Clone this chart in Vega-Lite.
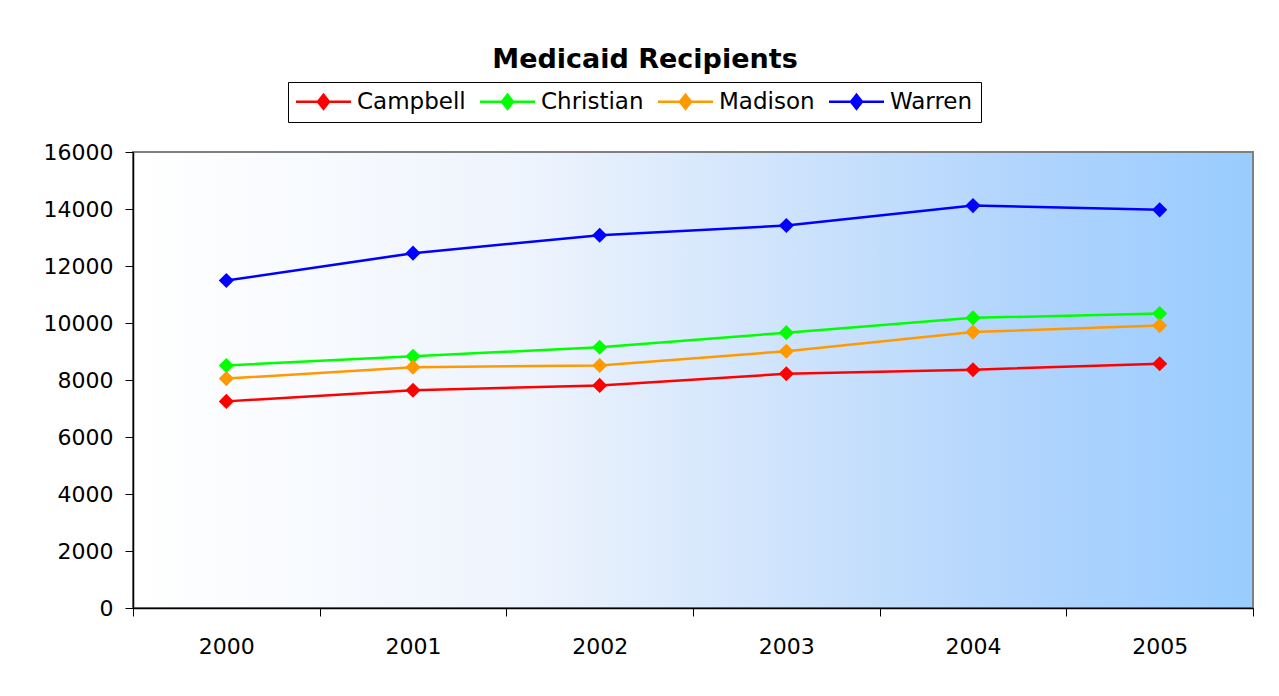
{
  "$schema": "https://vega.github.io/schema/vega-lite/v6.json",
  "autosize": {"type": "none"},
  "width": 1120,
  "height": 456,
  "padding": {"left": 133, "top": 152, "right": 26, "bottom": 88},
  "background": "white",
  "title": {
    "text": "Medicaid Recipients",
    "font": "DejaVu Sans",
    "fontSize": 27,
    "fontWeight": "bold",
    "color": "black",
    "anchor": "middle",
    "baseline": "alphabetic",
    "offset": -13,
    "dx": -48
  },
  "view": {
    "fill": {
      "gradient": "linear",
      "x1": 0, "y1": 0, "x2": 1, "y2": 0,
      "stops": [
        {"offset": 0, "color": "#FFFFFF"},
        {"offset": 0.35, "color": "#EEF4FD"},
        {"offset": 0.6, "color": "#CCE2FC"},
        {"offset": 0.8, "color": "#B0D4FD"},
        {"offset": 1, "color": "#99CCFF"}
      ]
    },
    "stroke": "#808080",
    "strokeWidth": 2
  },
  "data": {
    "values": [
      {"year": "2000", "county": "Campbell", "recipients": 7250},
      {"year": "2001", "county": "Campbell", "recipients": 7640},
      {"year": "2002", "county": "Campbell", "recipients": 7810},
      {"year": "2003", "county": "Campbell", "recipients": 8220},
      {"year": "2004", "county": "Campbell", "recipients": 8360},
      {"year": "2005", "county": "Campbell", "recipients": 8570},
      {"year": "2000", "county": "Christian", "recipients": 8510},
      {"year": "2001", "county": "Christian", "recipients": 8830},
      {"year": "2002", "county": "Christian", "recipients": 9150},
      {"year": "2003", "county": "Christian", "recipients": 9660},
      {"year": "2004", "county": "Christian", "recipients": 10180},
      {"year": "2005", "county": "Christian", "recipients": 10330},
      {"year": "2000", "county": "Madison", "recipients": 8050},
      {"year": "2001", "county": "Madison", "recipients": 8450},
      {"year": "2002", "county": "Madison", "recipients": 8510},
      {"year": "2003", "county": "Madison", "recipients": 9010},
      {"year": "2004", "county": "Madison", "recipients": 9680},
      {"year": "2005", "county": "Madison", "recipients": 9910},
      {"year": "2000", "county": "Warren", "recipients": 11490},
      {"year": "2001", "county": "Warren", "recipients": 12450},
      {"year": "2002", "county": "Warren", "recipients": 13080},
      {"year": "2003", "county": "Warren", "recipients": 13420},
      {"year": "2004", "county": "Warren", "recipients": 14120},
      {"year": "2005", "county": "Warren", "recipients": 13970}
    ]
  },
  "encoding": {
    "x": {
      "field": "year",
      "type": "ordinal",
      "scale": {"type": "band", "paddingInner": 0, "paddingOuter": 0},
      "axis": {
        "title": null,
        "labelAngle": 0,
        "labelFont": "DejaVu Sans",
        "labelFontSize": 22,
        "labelColor": "black",
        "labelPadding": 20,
        "tickSize": 8,
        "tickBand": "extent",
        "tickColor": "black",
        "domainColor": "black",
        "domainWidth": 1.5,
        "grid": false
      }
    },
    "y": {
      "field": "recipients",
      "type": "quantitative",
      "scale": {"domain": [0, 16000], "nice": false},
      "axis": {
        "title": null,
        "values": [0, 2000, 4000, 6000, 8000, 10000, 12000, 14000, 16000],
        "format": "d",
        "labelFont": "DejaVu Sans",
        "labelFontSize": 22,
        "labelColor": "black",
        "labelPadding": 12,
        "tickSize": 8,
        "tickColor": "black",
        "domainColor": "black",
        "domainWidth": 1.5,
        "grid": false
      }
    },
    "color": {
      "field": "county",
      "type": "nominal",
      "scale": {
        "domain": ["Campbell", "Christian", "Madison", "Warren"],
        "range": ["#FF0000", "#00FF00", "#FF9900", "#0000FF"]
      },
      "legend": {
        "title": null,
        "orient": "none",
        "legendX": 155,
        "legendY": -70,
        "direction": "horizontal",
        "columns": 4,
        "strokeColor": "black",
        "fillColor": "white",
        "padding": 8,
        "labelFont": "DejaVu Sans",
        "labelFontSize": 23,
        "labelColor": "black",
        "symbolType": "M-2.75,0H2.75M0,-0.7L0.55,0L0,0.7L-0.55,0Z",
        "symbolSize": 400,
        "symbolStrokeWidth": 2.5,
        "symbolOffset": 16,
        "labelOffset": 22,
        "columnPadding": 9,
        "encode": {
          "symbols": {
            "update": {
              "fill": {"scale": "color", "field": "value"},
              "stroke": {"scale": "color", "field": "value"},
              "strokeWidth": {"value": 2.5},
              "opacity": {"value": 1}
            }
          }
        }
      }
    }
  },
  "layer": [
    {"mark": {"type": "line", "strokeWidth": 2.5}},
    {"mark": {"type": "point", "shape": "diamond", "filled": true, "size": 230, "opacity": 1}}
  ]
}
